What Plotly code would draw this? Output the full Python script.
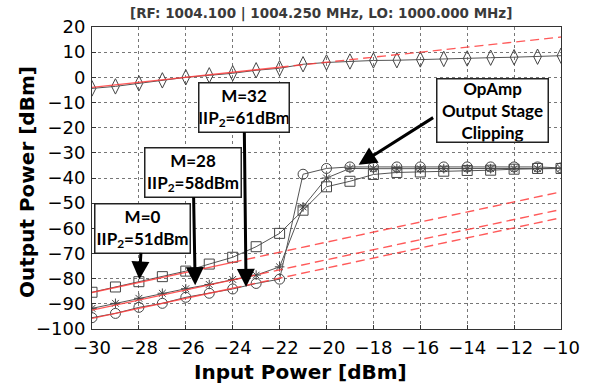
import plotly.graph_objects as go

# ---------------- data ----------------
input_power = [-30, -29, -28, -27, -26, -25, -24, -23, -22, -21, -20,
               -19, -18, -17, -16, -15, -14, -13, -12, -11, -10]

fundamental = [-4.4, -3.6, -2.4, -1.2, 0.0, 0.8, 1.6, 2.8, 3.6, 5.2, 5.9,
               6.3, 6.7, 6.8, 7.1, 7.3, 7.5, 7.8, 8.0, 8.2, 8.6]

im2_m0 = [-85.4, -83.3, -81.2, -79.2, -77.0, -74.2, -71.5, -67.3, -62.0, -52.8, -43.5,
          -41.3, -38.6, -37.8, -37.6, -37.3, -37.0, -36.9, -36.5, -36.2, -36.2]

im2_m28 = [-91.8, -89.8, -87.8, -85.8, -84.0, -82.3, -80.3, -78.6, -75.3, -51.5, -40.0,
           -36.2, -36.3, -36.3, -36.3, -36.3, -36.3, -36.3, -36.3, -36.3, -36.2]

im2_m32 = [-95.5, -93.8, -91.4, -89.8, -87.4, -85.8, -84.1, -81.9, -80.2, -38.5, -36.2,
           -35.6, -35.6, -35.6, -35.6, -35.6, -35.6, -35.6, -35.6, -35.6, -36.0]

# extrapolation lines (solid fit part + dashed extrapolation)
fund_fit_x = [-30, -22]
fund_fit_y = [-4.0, 4.0]
fund_ext_x = [-22, -10]
fund_ext_y = [4.0, 16.0]

im2_fit_x = [-30, -24]
im2_ext_x = [-24, -10]
m0_fit_y = [-85.5, -73.5]
m0_ext_y = [-73.5, -45.5]
m28_fit_y = [-92.5, -80.5]
m28_ext_y = [-80.5, -52.5]
m32_fit_y = [-95.8, -83.8]
m32_ext_y = [-83.8, -55.8]

x_ticks = [-30, -28, -26, -24, -22, -20, -18, -16, -14, -12, -10]
y_ticks = [-100, -90, -80, -70, -60, -50, -40, -30, -20, -10, 0, 10, 20]

title_text = "[RF: 1004.100 | 1004.250 MHz, LO: 1000.000 MHz]"
x_title = "Input Power [dBm]"
y_title = "Output Power [dBm]"

# ---------------- figure ----------------
fig = go.Figure()

mk_color = "#444444"
line_color = "#555555"

def meas(y, symbol, size=9):
    fig.add_trace(go.Scatter(
        x=input_power, y=y, mode="lines+markers",
        line=dict(color=line_color, width=1),
        marker=dict(symbol=symbol, size=size, color=mk_color,
                    line=dict(color=mk_color, width=1)),
        showlegend=False, hoverinfo="skip"))

meas(fundamental, "diamond-tall-open", 11)
meas(im2_m0, "square-open", 10)
meas(im2_m28, "asterisk-open", 8)
meas(im2_m32, "circle-open", 10)

red = "rgba(255,60,60,0.85)"

def redline(x, y, dash):
    fig.add_trace(go.Scatter(
        x=x, y=y, mode="lines",
        line=dict(color=red, width=1.4, dash=dash),
        showlegend=False, hoverinfo="skip"))

redline(fund_fit_x, fund_fit_y, "solid")
redline(fund_ext_x, fund_ext_y, "9px,5px")
for fy, ey in [(m0_fit_y, m0_ext_y), (m28_fit_y, m28_ext_y), (m32_fit_y, m32_ext_y)]:
    redline(im2_fit_x, fy, "solid")
    redline(im2_ext_x, ey, "9px,5px")

# geometry helpers (plot area 92..575 x 27..329 px)
L, R, T, B = 92, 575, 27, 329
def px(xp):
    return (xp - L) / (R - L)
def py(yp):
    return (B - yp) / (B - T)

box_font = dict(family="Lato", size=17, color="black", weight="bold")
arrow_style = dict(arrowhead=2, arrowsize=1.2, arrowwidth=3,
                   arrowcolor="black", standoff=0)

# IIP2 boxes with vertical arrows: (text, tip x, tip y, tail dx px, tail dy px, w, h)
iip_boxes = [
    ("M=32<br>IIP<sub>2</sub>=61dBm", -23.43, -83.3, -2, -179.5, 89, 48),
    ("M=28<br>IIP<sub>2</sub>=58dBm", -25.60, -82.6, -2, -112.7, 95, 48),
    ("M=0<br>IIP<sub>2</sub>=51dBm", -27.98, -80.3, 3, -51.3, 94, 48),
]
for txt, tx, ty, dx, dy, w, h in iip_boxes:
    fig.add_annotation(
        x=tx, y=ty, xref="x", yref="y", ax=dx, ay=dy,
        xanchor="center", yanchor="middle",
        text=txt, showarrow=True, font=box_font,
        width=w, height=h, bgcolor="white",
        bordercolor="#222222", borderwidth=1.5, borderpad=0, **arrow_style)

# OpAmp box and its slanted arrow
fig.add_annotation(
    xref="paper", yref="paper", x=px(504.2), y=py(110.5),
    xanchor="center", yanchor="middle",
    text="OpAmp<br>Output Stage<br>Clipping", showarrow=False, font=box_font,
    width=110, height=62, bgcolor="white",
    bordercolor="#222222", borderwidth=1.5, borderpad=0)
fig.add_annotation(
    x=-18.63, y=-34.7, xref="x", yref="y", ax=76, ay=-48,
    text="", showarrow=True, **arrow_style)

# title and axis titles
fig.add_annotation(xref="paper", yref="paper", x=px(328), y=py(14),
                   xanchor="center", yanchor="middle", showarrow=False,
                   text=title_text,
                   font=dict(family="DejaVu Sans", size=13.5, color="#3a3a3a", weight="bold"))
fig.add_annotation(xref="paper", yref="paper", x=px(307), y=py(372),
                   xanchor="center", yanchor="middle", showarrow=False,
                   text=x_title,
                   font=dict(family="DejaVu Sans", size=20, color="black", weight="bold"))
fig.add_annotation(xref="paper", yref="paper", x=px(25), y=py(182),
                   xanchor="center", yanchor="middle", showarrow=False,
                   text=y_title, textangle=-90,
                   font=dict(family="DejaVu Sans", size=20, color="black", weight="bold"))

axis_common = dict(
    showgrid=True, gridcolor="#777777", griddash="dot", gridwidth=1,
    zeroline=False, showline=True, linecolor="#333333", linewidth=1, mirror=True,
    ticks="inside", ticklen=4, tickcolor="#333333",
    tickfont=dict(family="DejaVu Sans", size=18, color="black"),
    ticklabeloverflow="allow",
)

fig.update_xaxes(range=[-30, -10], tickvals=x_ticks, ticklabelstandoff=2, **axis_common)
fig.update_yaxes(range=[-100, 20], tickvals=y_ticks, ticklabelstandoff=2, **axis_common)

fig.update_layout(
    width=592, height=389,
    margin=dict(l=L, r=592 - R, t=T, b=389 - B),
    plot_bgcolor="white", paper_bgcolor="white",
    showlegend=False,
)

fig.write_html("out.html", config={"displayModeBar": False},
               post_script="document.body.style.margin='0px';")
